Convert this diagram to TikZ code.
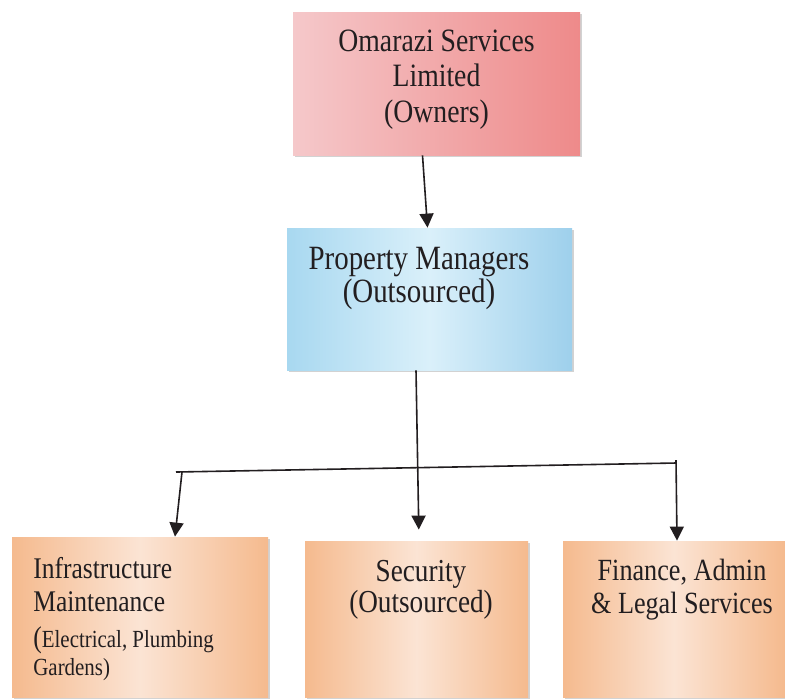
\documentclass[tikz,border=0pt]{standalone}
\usepackage{fontspec}
\setmainfont{Liberation Serif}[FakeStretch=0.85]
\usetikzlibrary{arrows.meta,shadows}

\definecolor{ink}{RGB}{34,30,32}
\definecolor{ownerL}{RGB}{245,200,202}
\definecolor{ownerR}{RGB}{238,138,138}
\definecolor{mgrL}{RGB}{168,216,240}
\definecolor{mgrM}{RGB}{218,240,250}
\definecolor{mgrR}{RGB}{158,208,236}
\definecolor{unitD}{RGB}{245,186,142}
\definecolor{unitL}{RGB}{251,228,212}

\begin{document}
\begin{tikzpicture}[x=0.5pt,y=-0.5pt,
    box/.style={inner sep=0pt,
      drop shadow={shadow xshift=1.2pt,shadow yshift=-1.2pt,opacity=.35}},
    ownerbox/.style={box,left color=ownerL,right color=ownerR},
    mgrbox/.style={box,left color=mgrL,right color=mgrR,middle color=mgrM},
    unitbox/.style={box,left color=unitD,right color=unitD,middle color=unitL},
    caption/.style={anchor=north,align=center,inner sep=0pt,text=ink},
    link/.style={draw=ink,line width=0.8pt,-{Triangle[length=7pt,width=7pt]}}]
  \fill[white] (0,0) rectangle (785,698);

  % owners and the managing agent
  \node[ownerbox,minimum width=143.5pt,minimum height=71.5pt,
    label={[caption,yshift=-8.9pt,font=\fontsize{16.3}{17.75}\selectfont]north:{Omarazi Services\\Limited\\(Owners)}}]
    (owners) at (436.5,83.5) {};
  \node[mgrbox,minimum width=142.5pt,minimum height=71pt,
    label={[caption,xshift=-5.25pt,yshift=-9.7pt,font=\fontsize{17}{16.5}\selectfont]north:{Property Managers\\(Outsourced)}}]
    (managers) at (429.5,299) {};

  % service units
  \node[unitbox,minimum width=128pt,minimum height=80pt,
    label={[caption,anchor=north west,align=left,xshift=-53.5pt,yshift=-10.3pt,font=\fontsize{15}{16.5}\selectfont]north:{Infrastructure\\Maintenance\\[1.5pt]({\fontsize{12.3}{14}\selectfont Electrical, Plumbing}\\[-2.5pt]{\fontsize{12.3}{14}\selectfont Gardens)}}}]
    (infra) at (140,617) {};
  \node[unitbox,minimum width=111.5pt,minimum height=78pt,
    label={[caption,xshift=2.25pt,yshift=-9.6pt,font=\fontsize{16}{15.5}\selectfont]north:{Security\\(Outsourced)}}]
    (security) at (416.5,619) {};
  \node[unitbox,minimum width=111pt,minimum height=78pt,
    label={[caption,xshift=4pt,yshift=-9pt,font=\fontsize{15.4}{16.5}\selectfont]north:{Finance, Admin\\\& Legal Services}}]
    (finance) at (674,619) {};

  \coordinate (busL) at (176,472);
  \coordinate (busR) at (676,463);

  \draw[link] ([xshift=-7pt]owners.south) -- ([xshift=-1pt]managers.north);
  \draw[link,shorten >=5.5pt] ([xshift=-6.75pt]managers.south) -- ([xshift=1.25pt]security.north);
  \draw[draw=ink,line width=0.8pt] (busL) -- (busR);
  \draw[link] ([xshift=3pt]busL) -- ([xshift=17.5pt]infra.north);
  \draw[link] ([yshift=1.5pt]busR) -- ([xshift=1.5pt]finance.north);
\end{tikzpicture}
\end{document}
